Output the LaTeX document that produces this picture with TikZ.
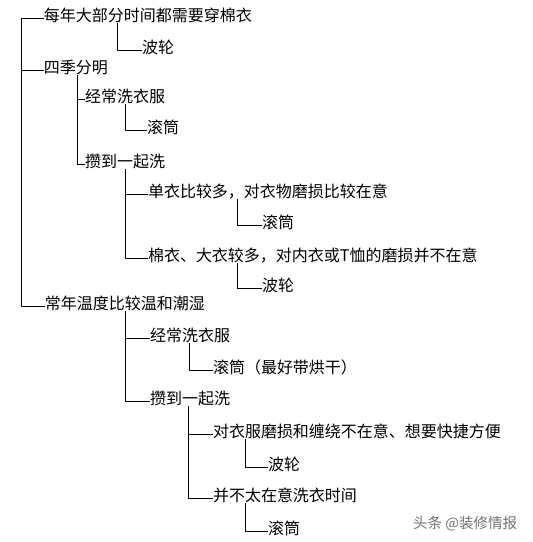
\documentclass[tikz,border=0pt]{standalone}
\usepackage{fontspec}
\newfontfamily\cjk{Noto Sans CJK SC}
\begin{document}
\begin{tikzpicture}[x=1pt,y=-1pt,
  item/.style={anchor=west,inner sep=0pt,outer sep=0pt,font=\cjk\fontsize{16pt}{16pt}\selectfont,
    text height=0.88em,text depth=0.12em},
  wire/.style={draw=black,line width=1pt},
  wmark/.style={anchor=west,inner sep=0pt,font=\cjk\fontsize{14.5pt}{14.5pt}\selectfont,text=black!55}]
\useasboundingbox[fill=white] (0,0) rectangle (533,542);
% nodes
\node[item] (a)    at (44,18)  {每年大部分时间都需要穿棉衣};
\node[item] (a1)   at (142,50) {波轮};
\node[item] (b)    at (44,70)  {四季分明};
\node[item] (b1)   at (85,99)  {经常洗衣服};
\node[item] (b11)  at (147,130) {滚筒};
\node[item] (b2)   at (85,164) {攒到一起洗};
\node[item] (b21)  at (148,194) {单衣比较多，对衣物磨损比较在意};
\node[item] (b211) at (262,225) {滚筒};
\node[item] (b22)  at (148,258) {棉衣、大衣较多，对内衣或T恤的磨损并不在意};
\node[item] (b221) at (262,288) {波轮};
\node[item] (c)    at (45,306) {常年温度比较温和潮湿};
\node[item] (c1)   at (150,338) {经常洗衣服};
\node[item] (c11)  at (213,370) {滚筒（最好带烘干）};
\node[item] (c2)   at (150,401) {攒到一起洗};
\node[item] (c21)  at (213,434) {对衣服磨损和缠绕不在意、想要快捷方便};
\node[item] (c211) at (268,467) {波轮};
\node[item] (c22)  at (213,498) {并不太在意洗衣时间};
\node[item] (c221) at (268,531) {滚筒};
\node[wmark] (wm) at (413,524) {头条 @装修情报};
% connectors
\coordinate (v1) at (21,18);
\draw[wire] (a.west) -- (v1) |- (c.west);
\draw[wire] (v1 |- b.west) -- (b.west);
\draw[wire] ([xshift=73pt]a.south west) |- (a1.west);
\draw[wire] ([xshift=33pt]b.south west) |- (b2.west);
\draw[wire] ([xshift=33pt]b.south west |- b1.west) -- (b1.west);
\draw[wire] ([xshift=40pt]b1.south west) |- (b11.west);
\draw[wire] ([xshift=40pt]b2.south west) |- (b22.west);
\draw[wire] ([xshift=40pt]b2.south west |- b21.west) -- (b21.west);
\draw[wire] ([xshift=89pt]b21.south west) |- (b211.west);
\draw[wire] ([xshift=89pt]b22.south west) |- (b221.west);
\draw[wire] ([xshift=80pt]c.south west) |- (c2.west);
\draw[wire] ([xshift=80pt]c.south west |- c1.west) -- (c1.west);
\draw[wire] ([xshift=39pt]c1.south west) |- (c11.west);
\draw[wire] ([xshift=38pt]c2.south west) |- (c22.west);
\draw[wire] ([xshift=38pt]c2.south west |- c21.west) -- (c21.west);
\draw[wire] ([xshift=32pt]c21.south west) |- (c211.west);
\draw[wire] ([xshift=32pt]c22.south west) |- (c221.west);
\end{tikzpicture}
\end{document}
